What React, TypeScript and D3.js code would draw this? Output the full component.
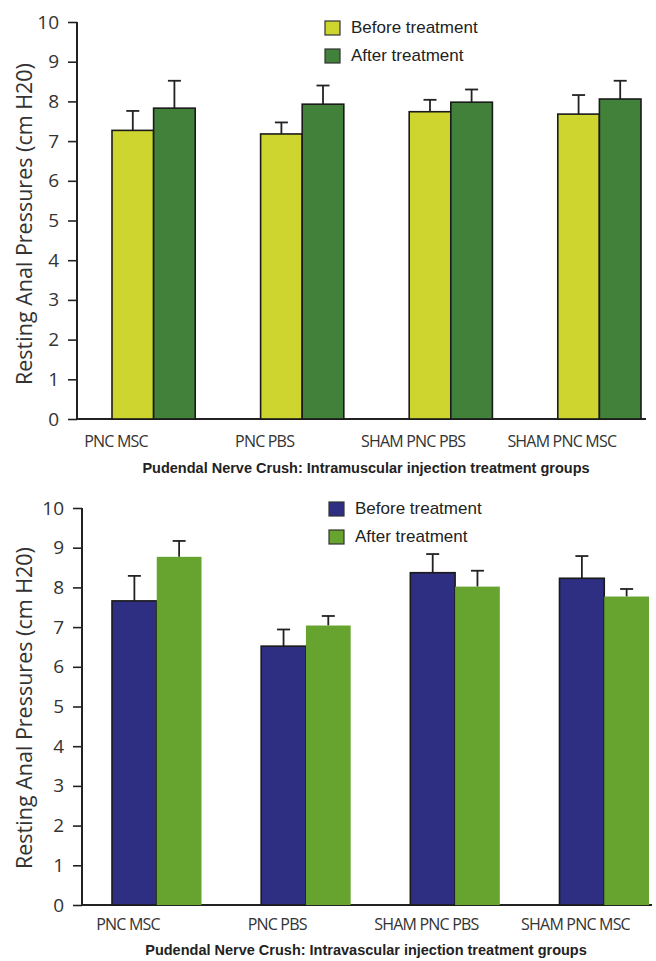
import React, { useEffect, useRef } from "react";
import * as d3 from "d3";

// groups on the x axis
const categories = ["PNC MSC", "PNC PBS", "SHAM PNC PBS", "SHAM PNC MSC"];
const yTicks = [0, 1, 2, 3, 4, 5, 6, 7, 8, 9, 10];
const legendLabels = ["Before treatment", "After treatment"];

// intramuscular injection (top panel)
const imBefore = [7.27, 7.18, 7.74, 7.68];
const imBeforeErr = [0.49, 0.29, 0.3, 0.48];
const imAfter = [7.83, 7.93, 7.98, 8.06];
const imAfterErr = [0.69, 0.47, 0.32, 0.46];

// intravascular injection (bottom panel)
const ivBefore = [7.66, 6.52, 8.37, 8.23];
const ivBeforeErr = [0.63, 0.42, 0.47, 0.56];
const ivAfter = [8.77, 7.04, 8.02, 7.77];
const ivAfterErr = [0.4, 0.24, 0.4, 0.19];

const panels = [
  {
    before: imBefore,
    beforeErr: imBeforeErr,
    after: imAfter,
    afterErr: imAfterErr,
    colors: ["#cdd52e", "#42813a"],
    strokeAfter: true,
    title: "Pudendal Nerve Crush: Intramuscular injection treatment groups",
    axisX: 77,
    y0: 419,
    y10: 22,
    bandRange: [112, 641],
    padInner: 0.44,
    axisEnd: 646,
    labelY: 447,
    labelShift: 4,
    titleY: 473,
    legendX: 325,
    legendY: 21,
    yTitleY: 224,
  },
  {
    before: ivBefore,
    beforeErr: ivBeforeErr,
    after: ivAfter,
    afterErr: ivAfterErr,
    colors: ["#2e2e82", "#67a32f"],
    strokeAfter: false,
    title: "Pudendal Nerve Crush: Intravascular injection treatment groups",
    axisX: 82,
    y0: 905,
    y10: 508,
    bandRange: [112, 649],
    padInner: 0.4,
    axisEnd: 652,
    labelY: 930,
    labelShift: 16,
    titleY: 955,
    legendX: 329,
    legendY: 502,
    yTitleY: 708,
  },
];

const drawPanel = (svg, p) => {
  const g = svg.append("g");

  const y = d3.scaleLinear().domain([0, 10]).range([p.y0, p.y10]);
  const x = d3
    .scaleBand()
    .domain(categories)
    .range(p.bandRange)
    .paddingInner(p.padInner)
    .paddingOuter(0);
  const xSub = d3
    .scaleBand()
    .domain(["before", "after"])
    .range([0, x.bandwidth()]);

  // y axis
  const yAxis = g
    .append("g")
    .attr("transform", `translate(${p.axisX},0)`)
    .call(d3.axisLeft(y).tickValues(yTicks).tickSize(9).tickPadding(9).tickFormat(d3.format("d")));
  yAxis.select(".domain").remove();
  yAxis.selectAll(".tick line").attr("stroke", "#222").attr("stroke-width", 1.6);
  yAxis
    .selectAll(".tick text")
    .attr("fill", "#333")
    .style("font-family", "'Open Sans', sans-serif")
    .style("font-size", "19px");
  g.append("line")
    .attr("x1", p.axisX)
    .attr("x2", p.axisX)
    .attr("y1", y(10))
    .attr("y2", y(0))
    .attr("stroke", "#222")
    .attr("stroke-width", 2);
  g.append("line")
    .attr("x1", p.axisX)
    .attr("x2", p.axisEnd)
    .attr("y1", y(0))
    .attr("y2", y(0))
    .attr("stroke", "#222")
    .attr("stroke-width", 2);

  // y title
  g.append("text")
    .attr("transform", `translate(32,${p.yTitleY}) rotate(-90)`)
    .attr("text-anchor", "middle")
    .attr("fill", "#333")
    .style("font-family", "'Open Sans', sans-serif")
    .style("font-size", "21.5px")
    .text("Resting Anal Pressures (cm H20)");

  const rows = categories.map((c, i) => ({
    cat: c,
    bars: [
      { key: "before", v: p.before[i], e: p.beforeErr[i] },
      { key: "after", v: p.after[i], e: p.afterErr[i] },
    ],
  }));

  const groups = g
    .selectAll(".grp")
    .data(rows)
    .enter()
    .append("g")
    .attr("class", "grp")
    .attr("transform", (d) => `translate(${x(d.cat)},0)`);

  const bars = groups
    .selectAll(".bar")
    .data((d) => d.bars)
    .enter()
    .append("g")
    .attr("class", "bar");

  // error bars first so the bar outline sits on top
  bars
    .append("line")
    .attr("x1", (d) => xSub(d.key) + xSub.bandwidth() / 2)
    .attr("x2", (d) => xSub(d.key) + xSub.bandwidth() / 2)
    .attr("y1", (d) => y(d.v))
    .attr("y2", (d) => y(d.v + d.e))
    .attr("stroke", "#222")
    .attr("stroke-width", 1.8);
  bars
    .append("line")
    .attr("x1", (d) => xSub(d.key) + xSub.bandwidth() / 2 - 6.5)
    .attr("x2", (d) => xSub(d.key) + xSub.bandwidth() / 2 + 6.5)
    .attr("y1", (d) => y(d.v + d.e))
    .attr("y2", (d) => y(d.v + d.e))
    .attr("stroke", "#222")
    .attr("stroke-width", 1.8);

  bars
    .append("rect")
    .attr("x", (d) => xSub(d.key))
    .attr("y", (d) => y(d.v))
    .attr("width", xSub.bandwidth())
    .attr("height", (d) => y(0) - y(d.v))
    .attr("fill", (d) => (d.key === "before" ? p.colors[0] : p.colors[1]))
    .attr("stroke", (d) => (d.key === "before" || p.strokeAfter ? "#1a1a1a" : "none"))
    .attr("stroke-width", 1.6);

  // category labels
  g.selectAll(".cat")
    .data(categories)
    .enter()
    .append("text")
    .attr("x", (d) => x(d) + p.labelShift)
    .attr("y", p.labelY)
    .attr("text-anchor", "middle")
    .attr("fill", "#333")
    .style("font-family", "'Open Sans', sans-serif")
    .style("font-size", "16px")
    .style("letter-spacing", "-0.8px")
    .text((d) => d);

  // x title
  g.append("text")
    .attr("x", 366)
    .attr("y", p.titleY)
    .attr("text-anchor", "middle")
    .attr("fill", "#222")
    .style("font-family", "'Liberation Sans', Arial, sans-serif")
    .style("font-size", "14.5px")
    .style("font-weight", "bold")
    .text(p.title);

  // legend
  const leg = g
    .selectAll(".leg")
    .data(legendLabels)
    .enter()
    .append("g")
    .attr("class", "leg")
    .attr("transform", (d, i) => `translate(${p.legendX},${p.legendY + i * 28})`);
  leg
    .append("rect")
    .attr("width", 15)
    .attr("height", 14)
    .attr("fill", (d, i) => p.colors[i])
    .attr("stroke", "#333")
    .attr("stroke-width", 1.2);
  leg
    .append("text")
    .attr("x", 26)
    .attr("y", 12)
    .attr("fill", "#222")
    .style("font-family", "'Liberation Sans', Arial, sans-serif")
    .style("font-size", "17px")
    .text((d) => d);
};

const App = () => {
  const svgRef = useRef(null);

  useEffect(() => {
    const svg = d3.select(svgRef.current);
    svg.selectAll("*").remove();
    panels.forEach((p) => drawPanel(svg, p));
  }, []);

  return (
    <div style={{ position: "absolute", left: 0, top: 0, background: "#fff" }}>
      <svg ref={svgRef} width={656} height={961}></svg>
    </div>
  );
};

export default App;
